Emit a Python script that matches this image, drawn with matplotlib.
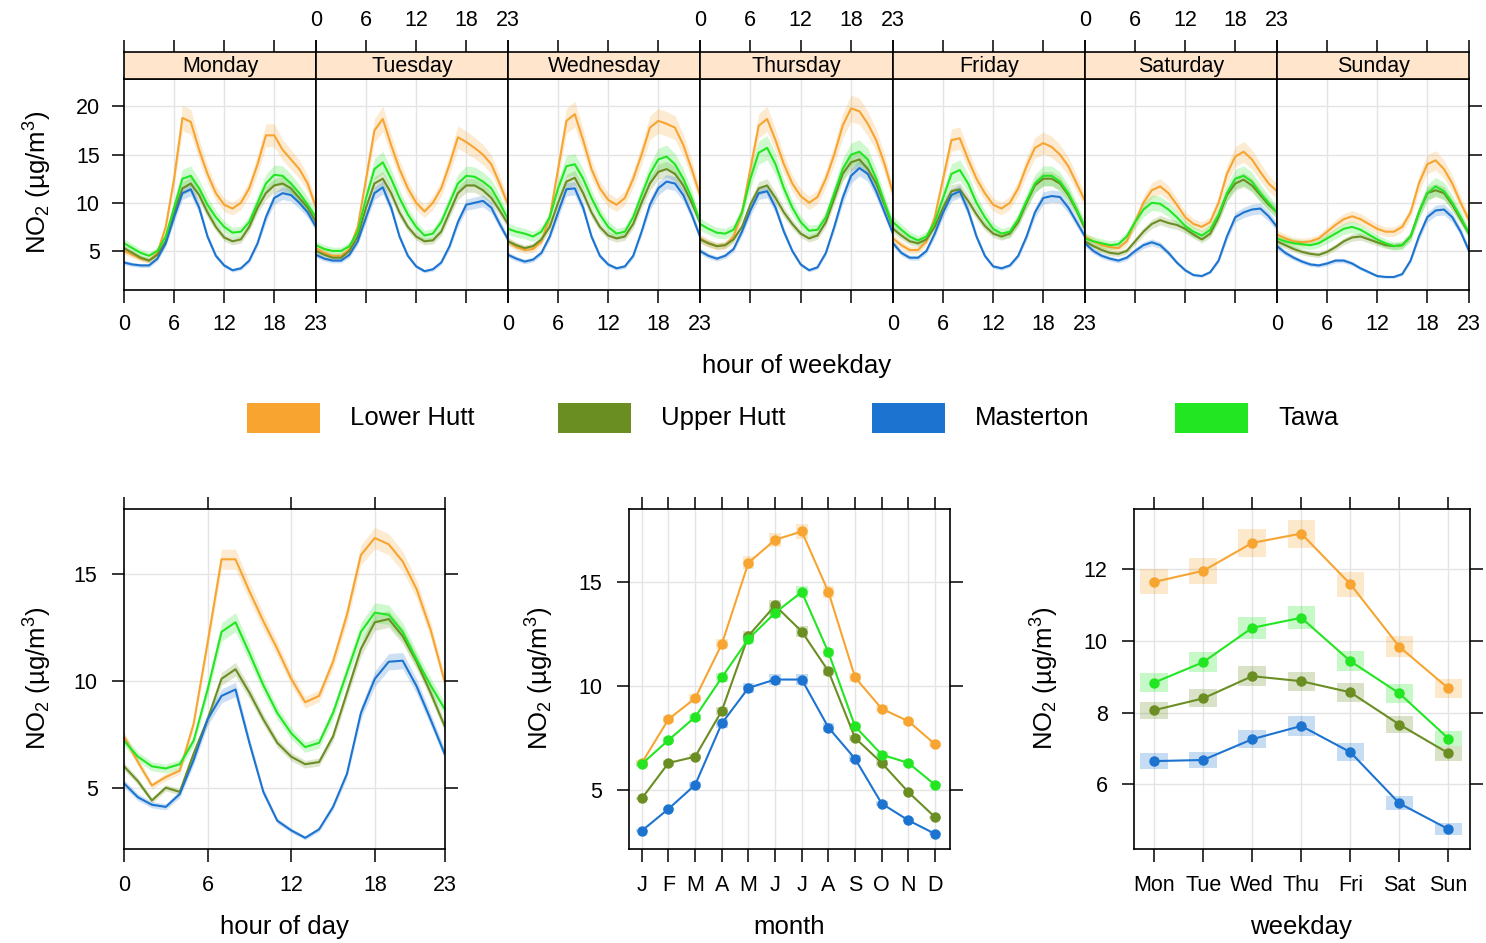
import numpy as np
import matplotlib.pyplot as plt
from matplotlib.patches import Rectangle

plt.rcParams['font.family'] = ['Liberation Sans', 'DejaVu Sans']
plt.rcParams['mathtext.fontset'] = 'custom'
plt.rcParams['mathtext.rm'] = 'Liberation Sans'
plt.rcParams['mathtext.default'] = 'regular'

W, H = 1486, 943

sites = ['Lower Hutt', 'Upper Hutt', 'Masterton', 'Tawa']
colours = ['#F7A431', '#6B8E23', '#1C74D0', '#22E622']

days = ['Monday', 'Tuesday', 'Wednesday', 'Thursday', 'Friday', 'Saturday', 'Sunday']
hours = list(range(24))
months = ['J', 'F', 'M', 'A', 'M', 'J', 'J', 'A', 'S', 'O', 'N', 'D']
wdays = ['Mon', 'Tue', 'Wed', 'Thu', 'Fri', 'Sat', 'Sun']

# hour x weekday means (Mon..Sun, 24 values each)
lower_hutt_week = [
    5.0, 4.6, 4.2, 4.0, 4.8, 7.5, 12.5, 18.8, 18.4, 15.5, 13.0, 11.0, 9.8, 9.4, 10.0, 11.5, 14.0, 17.0, 17.0, 15.5, 14.5, 13.5, 12.0, 9.5,
    5.3, 4.8, 4.5, 4.5, 5.2, 7.5, 12.5, 17.5, 18.7, 16.0, 13.5, 11.5, 10.0, 9.1, 10.0, 11.5, 14.0, 16.8, 16.3, 15.7, 15.0, 14.0, 12.0, 9.8,
    6.0, 5.4, 5.1, 5.2, 6.0, 8.5, 13.5, 18.5, 19.2, 16.5, 13.5, 11.5, 10.3, 9.8, 10.5, 12.5, 15.0, 17.8, 18.5, 18.2, 17.8, 16.0, 13.5, 10.8,
    6.3, 5.8, 5.5, 5.6, 6.5, 9.0, 13.5, 18.0, 18.7, 16.5, 14.0, 12.0, 10.7, 10.0, 10.6, 12.5, 15.0, 18.0, 19.8, 19.5, 18.2, 16.5, 14.0, 11.0,
    6.3, 5.6, 5.1, 5.1, 6.0, 8.5, 12.5, 16.5, 16.7, 14.5, 12.5, 11.0, 9.8, 9.4, 10.0, 11.5, 13.8, 15.7, 16.2, 15.8, 15.0, 13.8, 12.0, 10.2,
    6.5, 6.0, 5.6, 5.4, 5.3, 6.0, 8.0, 10.0, 11.3, 11.7, 11.0, 9.8, 8.5, 7.8, 7.5, 8.0, 10.0, 13.0, 14.8, 15.3, 14.5, 13.2, 12.0, 11.2,
    6.7, 6.3, 6.0, 5.9, 6.0, 6.3, 7.0, 7.7, 8.3, 8.6, 8.3, 7.8, 7.3, 7.0, 7.0, 7.5, 9.0, 12.0, 14.0, 14.4, 13.5, 12.0, 10.0, 8.2,
]
upper_hutt_week = [
    5.3, 4.8, 4.3, 4.0, 4.6, 6.0, 9.0, 11.5, 12.0, 10.8, 9.0, 7.5, 6.4, 6.0, 6.2, 7.5, 9.5, 11.0, 11.8, 12.0, 11.5, 10.5, 9.5, 8.0,
    5.0, 4.6, 4.3, 4.3, 5.0, 6.5, 9.5, 12.0, 12.5, 11.0, 9.0, 7.5, 6.5, 6.0, 6.1, 7.0, 9.0, 11.0, 11.8, 11.8, 11.3, 10.5, 9.2, 7.8,
    6.0, 5.6, 5.3, 5.5, 6.2, 7.5, 10.0, 12.2, 12.6, 11.0, 9.0, 7.5, 6.6, 6.3, 6.5, 7.8, 10.0, 12.0, 13.2, 13.5, 13.0, 11.8, 10.0, 8.0,
    6.2, 5.8, 5.5, 5.6, 6.2, 7.5, 9.8, 11.5, 11.8, 10.5, 9.0, 7.8, 6.8, 6.3, 6.6, 8.0, 10.5, 13.0, 14.2, 14.5, 13.5, 12.0, 9.8, 7.5,
    7.3, 6.6, 6.0, 5.8, 6.2, 7.5, 9.5, 11.2, 11.4, 10.2, 8.8, 7.6, 6.8, 6.5, 6.8, 8.0, 10.0, 11.8, 12.5, 12.5, 12.0, 10.8, 9.2, 7.3,
    6.0, 5.5, 5.1, 4.8, 4.7, 5.0, 6.0, 7.0, 7.8, 8.2, 7.9, 7.7, 7.3, 6.7, 6.2, 6.8, 8.5, 10.8, 12.0, 12.4, 11.8, 10.8, 9.8, 9.0,
    6.0, 5.6, 5.2, 4.9, 4.7, 4.6, 4.9, 5.4, 6.0, 6.4, 6.5, 6.2, 5.9, 5.6, 5.5, 5.6, 6.5, 9.0, 11.0, 11.3, 11.0, 9.8, 8.3, 6.8,
]
masterton_week = [
    3.8, 3.6, 3.5, 3.5, 4.2, 5.8, 8.5, 11.0, 11.4, 9.5, 6.5, 4.5, 3.5, 3.0, 3.2, 4.0, 5.8, 8.5, 10.5, 11.0, 10.8, 10.0, 9.0, 7.5,
    4.6, 4.2, 4.0, 4.0, 4.6, 6.0, 8.5, 11.0, 11.6, 9.5, 6.5, 4.5, 3.4, 2.9, 3.1, 3.8, 5.5, 8.0, 9.8, 10.0, 10.2, 9.5, 7.8, 6.2,
    4.6, 4.2, 3.9, 4.1, 4.8, 6.5, 9.0, 11.4, 11.5, 9.5, 6.5, 4.5, 3.6, 3.2, 3.4, 4.5, 7.0, 9.8, 11.5, 12.2, 12.0, 10.8, 8.8, 6.5,
    5.0, 4.5, 4.2, 4.5, 5.2, 7.0, 9.2, 11.0, 11.2, 9.5, 7.0, 5.0, 3.6, 3.0, 3.3, 4.8, 7.5, 10.5, 12.8, 13.6, 13.0, 11.2, 9.0, 6.8,
    5.8, 4.8, 4.3, 4.3, 5.0, 6.8, 9.0, 10.8, 11.2, 9.2, 6.5, 4.5, 3.4, 3.2, 3.5, 4.5, 6.5, 9.0, 10.5, 10.7, 10.6, 9.5, 8.0, 6.5,
    5.8, 5.0, 4.5, 4.2, 4.0, 4.3, 5.0, 5.6, 5.9, 5.6, 4.8, 3.8, 3.0, 2.5, 2.4, 2.8, 4.0, 6.5, 8.5, 9.0, 9.3, 9.4, 8.6, 7.5,
    5.5, 4.8, 4.3, 3.9, 3.6, 3.5, 3.7, 4.0, 4.0, 3.7, 3.2, 2.8, 2.4, 2.3, 2.3, 2.6, 4.0, 6.5, 8.5, 9.2, 9.3, 8.5, 7.0, 5.0,
]
tawa_week = [
    5.8, 5.3, 4.8, 4.5, 5.0, 6.5, 9.5, 12.5, 12.8, 11.5, 9.8, 8.5, 7.5, 6.9, 7.0, 8.0, 10.0, 12.0, 12.9, 12.8, 12.0, 11.0, 9.8, 8.5,
    5.6, 5.2, 5.0, 5.0, 5.5, 7.0, 10.5, 13.5, 14.2, 12.5, 10.5, 8.8, 7.5, 6.6, 6.8, 8.0, 10.0, 12.0, 12.8, 12.7, 12.2, 11.5, 10.0, 8.3,
    7.3, 7.0, 6.8, 6.5, 7.0, 8.5, 11.5, 13.8, 14.0, 12.5, 10.5, 8.8, 7.5, 6.8, 7.0, 8.5, 10.8, 13.0, 14.5, 14.8, 14.0, 12.5, 10.5, 8.0,
    7.8, 7.3, 6.9, 6.8, 7.2, 9.0, 12.5, 15.2, 15.7, 14.0, 11.5, 9.5, 8.0, 7.1, 7.2, 8.5, 11.0, 13.5, 15.0, 15.3, 14.5, 12.5, 10.0, 7.6,
    8.0, 7.2, 6.5, 6.1, 6.5, 8.0, 10.5, 13.0, 13.4, 12.0, 10.0, 8.5, 7.3, 6.8, 7.0, 8.3, 10.2, 12.0, 12.8, 12.8, 12.2, 11.0, 9.3, 7.5,
    6.3, 6.0, 5.8, 5.6, 5.7, 6.5, 8.0, 9.3, 10.0, 9.9, 9.3, 8.5, 7.6, 7.0, 6.6, 7.2, 8.8, 11.0, 12.5, 12.8, 12.2, 11.0, 10.0, 9.0,
    6.3, 6.0, 5.8, 5.7, 5.6, 5.8, 6.3, 6.8, 7.3, 7.5, 7.2, 6.7, 6.2, 5.8, 5.5, 5.6, 6.5, 9.0, 11.0, 11.7, 11.2, 10.0, 8.5, 6.8,
]

# hour of day means
lower_hutt_hour = [7.4, 6.2, 5.1, 5.5, 5.8, 8.0, 11.8, 15.7, 15.7, 14.2, 12.8, 11.5, 10.1, 9.0, 9.3, 10.9, 13.1, 15.9, 16.7, 16.4, 15.6, 14.3, 12.4, 10.0]
upper_hutt_hour = [6.0, 5.3, 4.4, 5.0, 4.8, 6.6, 8.2, 10.1, 10.55, 9.45, 8.2, 7.1, 6.45, 6.1, 6.2, 7.4, 9.45, 11.5, 12.75, 12.9, 12.1, 10.9, 9.45, 7.9]
masterton_hour = [5.2, 4.55, 4.2, 4.1, 4.7, 6.3, 8.2, 9.3, 9.6, 7.1, 4.8, 3.45, 3.0, 2.65, 3.05, 4.1, 5.65, 8.5, 10.1, 10.9, 10.95, 9.75, 8.2, 6.6]
tawa_hour = [7.2, 6.45, 6.0, 5.9, 6.1, 7.2, 9.6, 12.3, 12.75, 11.3, 9.8, 8.5, 7.55, 6.9, 7.1, 8.5, 10.4, 12.3, 13.2, 13.1, 12.3, 11.0, 9.8, 8.7]

# monthly means
lower_hutt_month = [6.3, 8.4, 9.4, 12.0, 15.9, 17.0, 17.4, 14.5, 10.4, 8.9, 8.3, 7.2]
upper_hutt_month = [4.6, 6.3, 6.6, 8.8, 12.4, 13.85, 12.6, 10.7, 7.5, 6.3, 4.9, 3.7]
masterton_month = [3.05, 4.1, 5.25, 8.2, 9.9, 10.3, 10.3, 8.0, 6.5, 4.35, 3.55, 2.9]
tawa_month = [6.25, 7.4, 8.5, 10.4, 12.25, 13.5, 14.5, 11.6, 8.05, 6.7, 6.3, 5.25]

# weekday means
lower_hutt_wday = [11.65, 11.96, 12.74, 13.0, 11.59, 9.84, 8.68]
upper_hutt_wday = [8.07, 8.4, 9.02, 8.88, 8.57, 7.67, 6.87]
masterton_wday = [6.65, 6.68, 7.26, 7.63, 6.9, 5.47, 4.75]
tawa_wday = [8.84, 9.41, 10.37, 10.65, 9.44, 8.54, 7.28]

# relative half-width of the confidence bands
ci_week = [0.07, 0.06, 0.06, 0.08]
ci_hour = [0.03, 0.03, 0.035, 0.035]
ci_month = [0.02, 0.02, 0.025, 0.02]
ci_wday = [0.03, 0.03, 0.035, 0.03]

week_data = [lower_hutt_week, upper_hutt_week, masterton_week, tawa_week]
hour_data = [lower_hutt_hour, upper_hutt_hour, masterton_hour, tawa_hour]
month_data = [lower_hutt_month, upper_hutt_month, masterton_month, tawa_month]
wday_data = [lower_hutt_wday, upper_hutt_wday, masterton_wday, tawa_wday]

GRID = '#E4E4E4'
TICK_FS = 15.5
LAB_FS = 18.5
ylab = 'NO$_2$ (µg/m$^3$)'


def px(left, top, right, bottom):
    return [left / W, 1 - bottom / H, (right - left) / W, (bottom - top) / H]


def style(ax, pad=8.5):
    for s in ax.spines.values():
        s.set_linewidth(1.2)
    ax.tick_params(direction='out', length=9, width=1.1, labelsize=TICK_FS, pad=pad)


fig = plt.figure(figsize=(W / 100, H / 100), dpi=100)

# ---- top: hour of weekday ----
edges = [124, 316, 508, 700, 893, 1085, 1277, 1469]
for d in range(7):
    ax = fig.add_axes(px(edges[d], 78.5, edges[d + 1], 289.5))
    style(ax)
    ax.set_xlim(0, 23)
    ax.set_ylim(1.0, 22.9)
    for g in [6, 12, 18]:
        ax.axvline(g, color=GRID, lw=1, zorder=0)
    for g in [5, 10, 15, 20]:
        ax.axhline(g, color=GRID, lw=1, zorder=0)
    for i in range(4):
        v = np.array(week_data[i][d * 24:(d + 1) * 24])
        ax.fill_between(hours, v * (1 - ci_week[i]), v * (1 + ci_week[i]),
                        color=colours[i], alpha=0.22, lw=0)
        ax.plot(hours, v, color=colours[i], lw=1.5)
    ax.set_xticks([0, 6, 12, 18, 23])
    ax.tick_params(top=False, bottom=True, labelbottom=(d % 2 == 0))
    ax.set_yticks([5, 10, 15, 20])
    if d == 0:
        ax.tick_params(left=True, labelleft=True, right=False)
    elif d == 6:
        ax.tick_params(left=False, labelleft=False, right=True, labelright=False)
    else:
        ax.tick_params(left=False, labelleft=False)

    st = fig.add_axes(px(edges[d], 51.7, edges[d + 1], 78.5))
    style(st, pad=6)
    st.set_facecolor('#FFE5CC')
    st.set_xlim(0, 23)
    st.set_yticks([])
    st.set_xticks([0, 6, 12, 18, 23])
    st.tick_params(bottom=False, labelbottom=False, top=True, labeltop=(d % 2 == 1))
    st.text(0.5, 0.45, days[d], transform=st.transAxes, ha='center', va='center',
            fontsize=TICK_FS)

fig.text(797 / W, 1 - 366 / H, 'hour of weekday', ha='center', va='center', fontsize=LAB_FS)
fig.text(38 / W, 1 - 182 / H, ylab, ha='center', va='center', rotation=90, fontsize=LAB_FS)

# ---- legend ----
leg = fig.add_axes([0, 0, 1, 1], facecolor='none')
leg.set_xlim(0, W)
leg.set_ylim(H, 0)
leg.axis('off')
patch_x = [247, 558, 872, 1175]
for i in range(4):
    leg.add_patch(Rectangle((patch_x[i], 403), 73, 30, color=colours[i], lw=0))
    leg.text(patch_x[i] + 103, 418, sites[i], ha='left', va='center', fontsize=LAB_FS)

# ---- hour of day ----
ax = fig.add_axes(px(124, 508.5, 444.5, 848.5))
style(ax, pad=10)
ax.set_xlim(0, 23)
ax.set_ylim(2.15, 18.08)
for g in [6, 12, 18]:
    ax.axvline(g, color=GRID, lw=1, zorder=0)
for g in [5, 10, 15]:
    ax.axhline(g, color=GRID, lw=1, zorder=0)
for i in range(4):
    v = np.array(hour_data[i])
    ax.fill_between(hours, v * (1 - ci_hour[i]), v * (1 + ci_hour[i]),
                    color=colours[i], alpha=0.22, lw=0)
    ax.plot(hours, v, color=colours[i], lw=1.5)
ax.set_xticks([0, 6, 12, 18, 23])
ax.set_yticks([5, 10, 15])
ax.tick_params(top=True, right=True)
fig.text(284 / W, 1 - 927 / H, 'hour of day', ha='center', va='center', fontsize=LAB_FS)
fig.text(38 / W, 1 - 678 / H, ylab, ha='center', va='center', rotation=90, fontsize=LAB_FS)

# ---- month ----
ax = fig.add_axes(px(628.5, 508.5, 950, 848.5))
style(ax, pad=10)
mx = np.arange(1, 13)
ax.set_xlim(0.5, 12.56)
ax.set_ylim(2.2, 18.5)
for g in mx:
    ax.axvline(g, color=GRID, lw=1, zorder=0)
for g in [5, 10, 15]:
    ax.axhline(g, color=GRID, lw=1, zorder=0)
for i in range(4):
    v = np.array(month_data[i])
    for x, y in zip(mx, v):
        h = y * ci_month[i]
        ax.add_patch(Rectangle((x - 0.22, y - h), 0.44, 2 * h, color=colours[i],
                               alpha=0.25, lw=0))
    ax.plot(mx, v, color=colours[i], lw=1.5, marker='o', ms=6.5)
ax.set_xticks(mx)
ax.set_xticklabels(months)
ax.set_yticks([5, 10, 15])
ax.tick_params(top=True, right=True)
fig.text(789 / W, 1 - 927 / H, 'month', ha='center', va='center', fontsize=LAB_FS)
fig.text(540 / W, 1 - 678 / H, ylab, ha='center', va='center', rotation=90, fontsize=LAB_FS)

# ---- weekday ----
ax = fig.add_axes(px(1134, 508.5, 1470, 848.5))
style(ax, pad=10)
wx = np.arange(1, 8)
ax.set_xlim(0.59, 7.44)
ax.set_ylim(4.21, 13.70)
for g in wx:
    ax.axvline(g, color=GRID, lw=1, zorder=0)
for g in [6, 8, 10, 12]:
    ax.axhline(g, color=GRID, lw=1, zorder=0)
for i in range(4):
    v = np.array(wday_data[i])
    for x, y in zip(wx, v):
        h = y * ci_wday[i]
        ax.add_patch(Rectangle((x - 0.28, y - h), 0.56, 2 * h, color=colours[i],
                               alpha=0.25, lw=0))
    ax.plot(wx, v, color=colours[i], lw=1.5, marker='o', ms=6.5)
ax.set_xticks(wx)
ax.set_xticklabels(wdays)
ax.set_yticks([6, 8, 10, 12])
ax.tick_params(top=True, right=True)
fig.text(1301 / W, 1 - 927 / H, 'weekday', ha='center', va='center', fontsize=LAB_FS)
fig.text(1045 / W, 1 - 678 / H, ylab, ha='center', va='center', rotation=90, fontsize=LAB_FS)

fig.savefig('out.png', dpi=100)
